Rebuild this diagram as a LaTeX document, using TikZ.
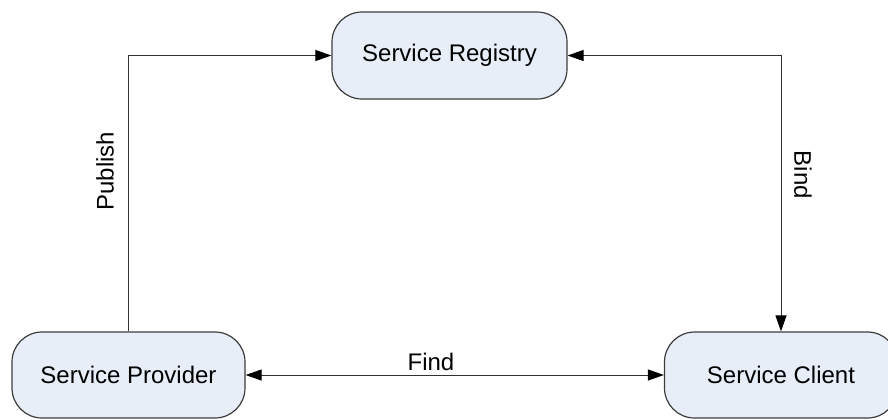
\documentclass[tikz,border=0pt]{standalone}
\usepackage{fontspec}
\setmainfont{Liberation Sans}
\usetikzlibrary{arrows.meta}
\definecolor{boxfill}{RGB}{232,238,248}
\definecolor{boxline}{RGB}{60,60,60}
\definecolor{lineclr}{RGB}{50,50,50}
\begin{document}
\begin{tikzpicture}[x=0.5pt,y=-0.5pt,
  svc/.style={draw=boxline,fill=boxfill,line width=0.6pt,rounded corners=15pt,
    minimum width=116.5pt,minimum height=43pt,inner sep=0pt,
    font=\fontsize{12}{14}\selectfont},
  tip/.tip={Triangle[length=8pt,width=5.5pt,color=black]},
  conn/.style={draw=lineclr,line width=0.5pt,-tip},
  conn2/.style={draw=lineclr,line width=0.5pt,tip-tip},
  lbl/.style={font=\fontsize{12}{14}\selectfont,inner sep=0pt}]
\useasboundingbox (0,0) rectangle (888,419);
\begin{scope}
\clip (0,0) rectangle (888,419);
\node[svc,minimum width=117.5pt,minimum height=43.5pt] (reg) at (449.5,55.5) {Service Registry};
\node[svc] (prov) at (128.5,375) {Service Provider};
\node[svc] (cli) at (781,375) {Service Client};
\draw[conn] (prov.north) |- (reg.west);
\draw[conn2] (reg.east) -| (cli.north);
\draw[conn2] (prov.east) -- (cli.west);
\end{scope}
\node[lbl,rotate=90] (pub) at (105,171) {Publish};
\node[lbl,rotate=-90] (bind) at (803,175) {Bind};
\node[lbl] (find) at (431,362) {Find};
\end{tikzpicture}
\end{document}
